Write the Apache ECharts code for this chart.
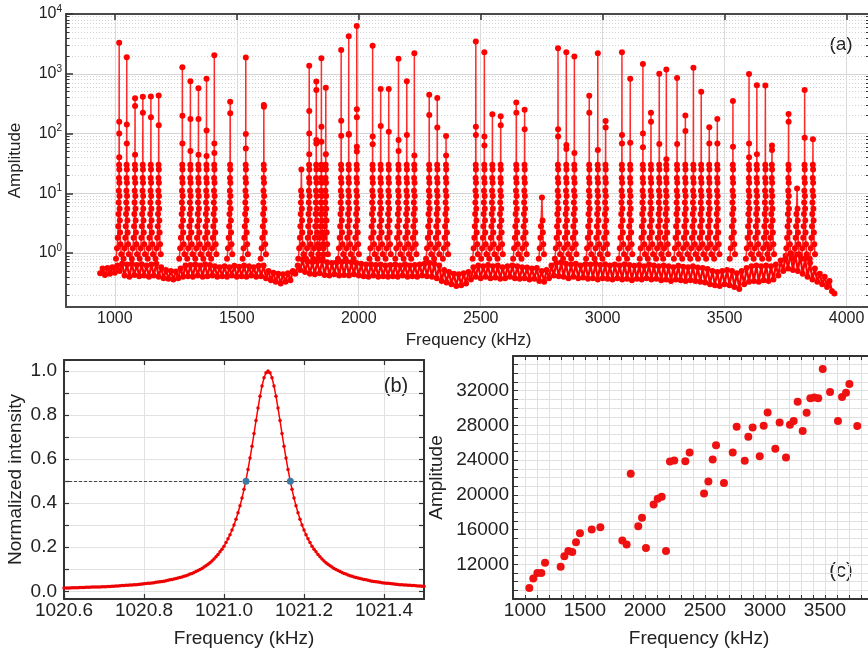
<!DOCTYPE html>
<html><head><meta charset="utf-8">
<script src="https://cdn.jsdelivr.net/npm/echarts@6/dist/echarts.min.js"></script>
<style>html,body{margin:0;padding:0;background:#fff}#c{width:868px;height:652px}</style>
</head><body><div id="c"></div>
<script>
// ---------- Panel (a): spectrum ----------
const peakFreq = [1018,1049,1083,1115,1148,1180,1277,1310,1343,1376,1408,1473,1537,1611,1765,1797,1826,1847,1865,1928,1959,1992,2057,2090,2123,2163,2197,2228,2289,2322,2358,2480,2515,2548,2582,2646,2680,2751,2817,2851,2884,2945,2980,3012,3079,3113,3165,3198,3232,3261,3305,3339,3372,3404,3437,3470,3534,3600,3632,3667,3694,3762,3797,3828,3862];
const peakAmp = [3300,1890,388,413,418,434,1280,750,570,826,2040,340,1880,300,25,1365,740,1820,585,2500,4250,6300,2950,555,555,1790,750,2200,445,393,91,3460,2290,211,194,330,250,8.5,2680,2290,1940,430,2200,162,2300,825,1450,223,1000,1180,850,200,1260,500,127,175,350,990,640,635,63,213,12,535,80];
const peakDots = [[157,100,40],[142,68],[288,44],[223],[187],[137],[198,68],[175,51],[175,44],[112,42],[68,47],[218],[98,56],[280],[],[238,100,45],[535,78,68],[130,73],[45],[164,92],[98,95],[254,187,60,50],[89,66],[133],[107],[78,51],[94],[43],[204],[126],[43],[130,94],[89,63],[],[138],[223],[118],[],[118,89],[64,55],[47],[223],[53],[126],[94,68],[70],[100,59],[157],[67],[37],[67],[110],[],[],[68],[68],[60],[68,40],[45],[],[53],[157],[],[85],[]];
// dots seen on every stem below the top (amplitude, kHz from the peak centre)
const riseLevel = [0.8,1.2,1.8,2.8,4.5,7,11,18,30];
const riseOffset = [-13,-9,-6,-4,-2.8,-2,-1.4,-0.9,-0.5];
const fallLevel = [25,15,9,5.5,3.5,2.2,1.4,0.95];
const fallOffset = [0.5,0.8,1.2,1.8,2.6,3.8,5.5,8.5];
// noise floor between the peaks
const bandFreq = [
940,950,960,970,980,990,1000,1010,1020,1030,
1040,1050,1060,1070,1080,1090,1100,1110,1120,1130,
1140,1150,1160,1170,1180,1190,1200,1210,1220,1230,
1240,1250,1260,1270,1280,1290,1300,1310,1320,1330,
1340,1350,1360,1370,1380,1390,1400,1410,1420,1430,
1440,1450,1460,1470,1480,1490,1500,1510,1520,1530,
1540,1550,1560,1570,1580,1590,1600,1610,1620,1630,
1640,1650,1660,1670,1680,1690,1700,1710,1720,1730,
1740,1750,1760,1770,1780,1790,1800,1810,1820,1830,
1840,1850,1860,1870,1880,1890,1900,1910,1920,1930,
1940,1950,1960,1970,1980,1990,2000,2010,2020,2030,
2040,2050,2060,2070,2080,2090,2100,2110,2120,2130,
2140,2150,2160,2170,2180,2190,2200,2210,2220,2230,
2240,2250,2260,2270,2280,2290,2300,2310,2320,2330,
2340,2350,2360,2370,2380,2390,2400,2410,2420,2430,
2440,2450,2460,2470,2480,2490,2500,2510,2520,2530,
2540,2550,2560,2570,2580,2590,2600,2610,2620,2630,
2640,2650,2660,2670,2680,2690,2700,2710,2720,2730,
2740,2750,2760,2770,2780,2790,2800,2810,2820,2830,
2840,2850,2860,2870,2880,2890,2900,2910,2920,2930,
2940,2950,2960,2970,2980,2990,3000,3010,3020,3030,
3040,3050,3060,3070,3080,3090,3100,3110,3120,3130,
3140,3150,3160,3170,3180,3190,3200,3210,3220,3230,
3240,3250,3260,3270,3280,3290,3300,3310,3320,3330,
3340,3350,3360,3370,3380,3390,3400,3410,3420,3430,
3440,3450,3460,3470,3480,3490,3500,3510,3520,3530,
3540,3550,3560,3570,3580,3590,3600,3610,3620,3630,
3640,3650,3660,3670,3680,3690,3700,3710,3720,3730,
3740,3750,3760,3770,3780,3790,3800,3810,3820,3830,
3840,3850,3860,3870,3880,3890,3900,3910,3920,3930,
3940,3950];
const bandAmp = [
0.46,0.55,0.43,0.56,0.45,0.58,0.47,0.62,0.50,0.66,
0.42,0.64,0.40,0.66,0.43,0.63,0.41,0.65,0.42,0.62,
0.40,0.64,0.42,0.66,0.40,0.58,0.38,0.52,0.37,0.50,
0.36,0.49,0.38,0.55,0.40,0.62,0.41,0.63,0.40,0.64,
0.42,0.62,0.40,0.65,0.41,0.63,0.42,0.60,0.40,0.58,
0.41,0.60,0.40,0.58,0.42,0.61,0.40,0.59,0.41,0.62,
0.40,0.60,0.42,0.58,0.40,0.61,0.41,0.62,0.38,0.50,
0.35,0.47,0.33,0.45,0.31,0.44,0.33,0.46,0.35,0.50,
0.45,0.62,0.52,0.78,0.48,0.72,0.45,0.70,0.44,0.72,
0.46,0.74,0.43,0.70,0.42,0.68,0.44,0.70,0.42,0.71,
0.43,0.72,0.42,0.70,0.44,0.68,0.42,0.66,0.41,0.64,
0.40,0.65,0.42,0.63,0.40,0.64,0.41,0.62,0.40,0.63,
0.41,0.64,0.40,0.62,0.42,0.65,0.40,0.62,0.41,0.63,
0.40,0.64,0.42,0.66,0.41,0.68,0.40,0.66,0.38,0.62,
0.34,0.52,0.32,0.48,0.30,0.45,0.28,0.44,0.29,0.46,
0.31,0.48,0.36,0.58,0.40,0.62,0.38,0.60,0.40,0.63,
0.38,0.60,0.39,0.62,0.37,0.58,0.38,0.60,0.40,0.62,
0.38,0.60,0.37,0.58,0.38,0.57,0.36,0.55,0.37,0.56,
0.34,0.50,0.33,0.52,0.38,0.62,0.42,0.68,0.41,0.70,
0.40,0.66,0.38,0.64,0.40,0.66,0.38,0.62,0.39,0.65,
0.37,0.64,0.38,0.66,0.36,0.63,0.38,0.65,0.37,0.62,
0.36,0.64,0.38,0.62,0.36,0.65,0.37,0.63,0.35,0.61,
0.37,0.63,0.36,0.60,0.38,0.64,0.36,0.62,0.37,0.60,
0.35,0.62,0.36,0.60,0.34,0.58,0.36,0.61,0.35,0.59,
0.34,0.58,0.35,0.60,0.34,0.57,0.33,0.56,0.32,0.54,
0.30,0.50,0.29,0.48,0.28,0.50,0.30,0.52,0.29,0.50,
0.27,0.46,0.25,0.50,0.30,0.56,0.33,0.60,0.34,0.62,
0.33,0.60,0.35,0.62,0.34,0.60,0.36,0.64,0.42,0.75,
0.50,0.90,0.55,1.00,0.52,0.95,0.50,0.90,0.45,0.80,
0.40,0.68,0.36,0.55,0.33,0.45,0.30,0.40,0.27,0.34,
0.23,0.21];
const aTickX = [1000,1500,2000,2500,3000,3500,4000];
const aTickY = [1,10,100,1000,10000];
const aMinorY = [0.2,0.3,0.4,0.5,0.6,0.7,0.8,0.9,2,3,4,5,6,7,8,9,20,30,40,50,60,70,80,90,200,300,400,500,600,700,800,900,2000,3000,4000,5000,6000,7000,8000,9000];

// ---------- Panel (b): single resonance ----------
const freqB = [
1020.6,1020.605,1020.61,1020.615,1020.62,1020.625,1020.63,1020.635,1020.64,1020.645,
1020.65,1020.655,1020.66,1020.665,1020.67,1020.675,1020.68,1020.685,1020.69,1020.695,
1020.7,1020.705,1020.71,1020.715,1020.72,1020.725,1020.73,1020.735,1020.74,1020.745,
1020.75,1020.755,1020.76,1020.765,1020.77,1020.775,1020.78,1020.785,1020.79,1020.795,
1020.8,1020.805,1020.81,1020.815,1020.82,1020.825,1020.83,1020.835,1020.84,1020.845,
1020.85,1020.855,1020.86,1020.865,1020.87,1020.875,1020.88,1020.885,1020.89,1020.895,
1020.9,1020.905,1020.91,1020.915,1020.92,1020.925,1020.93,1020.935,1020.94,1020.945,
1020.95,1020.955,1020.96,1020.965,1020.97,1020.975,1020.98,1020.985,1020.99,1020.995,
1021.0,1021.005,1021.01,1021.015,1021.02,1021.025,1021.03,1021.035,1021.04,1021.045,
1021.05,1021.055,1021.06,1021.065,1021.07,1021.075,1021.08,1021.085,1021.09,1021.095,
1021.1,1021.105,1021.11,1021.115,1021.12,1021.125,1021.13,1021.135,1021.14,1021.145,
1021.15,1021.155,1021.16,1021.165,1021.17,1021.175,1021.18,1021.185,1021.19,1021.195,
1021.2,1021.205,1021.21,1021.215,1021.22,1021.225,1021.23,1021.235,1021.24,1021.245,
1021.25,1021.255,1021.26,1021.265,1021.27,1021.275,1021.28,1021.285,1021.29,1021.295,
1021.3,1021.305,1021.31,1021.315,1021.32,1021.325,1021.33,1021.335,1021.34,1021.345,
1021.35,1021.355,1021.36,1021.365,1021.37,1021.375,1021.38,1021.385,1021.39,1021.395,
1021.4,1021.405,1021.41,1021.415,1021.42,1021.425,1021.43,1021.435,1021.44,1021.445,
1021.45,1021.455,1021.46,1021.465,1021.47,1021.475,1021.48,1021.485,1021.49,1021.495,
1021.5];
const intensityB = [
0.015,0.015,0.015,0.015,0.016,0.016,0.016,0.016,0.017,0.017,
0.017,0.018,0.018,0.018,0.019,0.019,0.019,0.020,0.020,0.021,
0.021,0.021,0.022,0.022,0.023,0.023,0.024,0.024,0.025,0.026,
0.026,0.027,0.027,0.028,0.029,0.030,0.030,0.031,0.032,0.033,
0.034,0.035,0.036,0.037,0.038,0.039,0.041,0.042,0.043,0.045,
0.046,0.048,0.050,0.052,0.054,0.056,0.058,0.060,0.063,0.065,
0.068,0.071,0.074,0.078,0.081,0.085,0.090,0.094,0.099,0.104,
0.110,0.116,0.123,0.130,0.138,0.147,0.157,0.167,0.179,0.191,
0.205,0.221,0.238,0.257,0.278,0.301,0.327,0.356,0.388,0.423,
0.463,0.506,0.553,0.605,0.659,0.716,0.775,0.832,0.885,0.932,
0.969,0.992,1.000,0.992,0.969,0.932,0.885,0.832,0.775,0.716,
0.659,0.605,0.553,0.506,0.463,0.423,0.388,0.356,0.327,0.301,
0.278,0.257,0.238,0.221,0.205,0.191,0.179,0.167,0.157,0.147,
0.138,0.130,0.123,0.116,0.110,0.104,0.099,0.094,0.090,0.085,
0.081,0.078,0.074,0.071,0.068,0.065,0.063,0.060,0.058,0.056,
0.054,0.052,0.050,0.048,0.046,0.045,0.043,0.042,0.041,0.039,
0.038,0.037,0.036,0.035,0.034,0.033,0.032,0.031,0.030,0.030,
0.029,0.028,0.027,0.027,0.026,0.026,0.025,0.024,0.024,0.023,
0.023];
const halfFreq = [1021.055, 1021.166];
const halfLevel = [0.5, 0.5];
const bTickX = [1020.6,1020.8,1021.0,1021.2,1021.4];
const bTickY = [0,0.2,0.4,0.6,0.8,1.0];
const bMinorY = [0,0.1,0.2,0.3,0.4,0.5,0.6,0.7,0.8,0.9,1.0];

// ---------- Panel (c): peak amplitude vs frequency ----------
const freqC = [1036,1069,1103,1136,1167,1297,1328,1361,1394,1425,1458,1556,1628,1811,1847,1881,1944,1975,2008,2072,2106,2139,2175,2208,2244,2336,2372,2492,2528,2564,2592,2658,2731,2764,2831,2861,2897,2956,2989,3022,3086,3122,3175,3208,3239,3272,3314,3347,3378,3411,3444,3481,3542,3608,3642,3675,3703,3769];
const ampC = [9270,10350,11000,11000,12190,11730,12920,13540,13420,14540,15580,16000,16270,14730,14270,22420,16390,17350,13890,18890,19540,19770,13540,23850,23960,23880,24880,20150,21540,24080,25730,21380,24880,27850,23920,26690,27770,24460,27960,29500,25310,28350,24310,28080,28500,30730,27350,29460,31120,31230,31120,34500,31850,28500,31270,31770,32770,27920];
const cTickX = [1000,1500,2000,2500,3000,3500];
const cMinorX = [900,1000,1100,1200,1300,1400,1500,1600,1700,1800,1900,2000,2100,2200,2300,2400,2500,2600,2700,2800,2900,3000,3100,3200,3300,3400,3500,3600,3700,3800,3900,4000];
const cTickY = [12000,16000,20000,24000,28000,32000];
const cMinorY = [8000,9000,10000,11000,12000,13000,14000,15000,16000,17000,18000,19000,20000,21000,22000,23000,24000,25000,26000,27000,28000,29000,30000,31000,32000,33000,34000,35000,36000];

// ---------- build series data ----------
const bandData = bandFreq.map((f, i) => [f, bandAmp[i]]);
const peakData = [];
peakFreq.forEach((f, p) => {
  const A = peakAmp[p];
  riseLevel.forEach((v, j) => { if (v < A * 0.5) peakData.push([f + riseOffset[j], v]); });
  peakData.push([f, A]);
  peakDots[p].forEach(v => peakData.push([f + 0.2, v]));
  fallLevel.forEach((v, j) => { if (v < A * 0.5) peakData.push([f + fallOffset[j], v]); });
  peakData.push([f + 9, '-']);
});
const bData = freqB.map((f, i) => [f, intensityB[i]]);
const halfData = halfFreq.map((f, i) => [f, halfLevel[i]]);
const cData = freqC.map((f, i) => [f, ampC[i]]);

const FONT = '"Liberation Sans", Arial, sans-serif';
const TXT = '#222';
const DARK = '#333';
const plain = v => String(Math.round(v));
const chart = echarts.init(document.getElementById('c'), null, {renderer: 'canvas'});

function frameAxis(extra) {
  return Object.assign({
    type: 'value',
    axisLine: {show: true, onZero: false, lineStyle: {color: DARK, width: 2}},
    axisTick: {show: false},
    axisLabel: {show: false},
    splitLine: {show: false}
  }, extra);
}

chart.setOption({
  animation: false,
  backgroundColor: '#fff',
  textStyle: {fontFamily: FONT, color: TXT},
  grid: [
    {left: 66, top: 14, width: 805, height: 293, containLabel: false, outerBoundsMode: 'none'},
    {left: 64, top: 360, width: 360, height: 239, containLabel: false, outerBoundsMode: 'none'},
    {left: 513, top: 356, width: 372, height: 243, containLabel: false, outerBoundsMode: 'none'}
  ],
  xAxis: [
    frameAxis({gridIndex: 0, position: 'bottom', min: 800, max: 4100,
      axisLine: {show: true, onZero: false, lineStyle: {color: '#4a4a4a', width: 2}},
      axisTick: {show: false, customValues: aTickX},
      axisLabel: {show: true, customValues: aTickX, formatter: plain, fontSize: 16, color: TXT, margin: 4, fontFamily: FONT},
      splitLine: {show: true, lineStyle: {color: '#dadada', width: 1}},
      name: 'Frequency (kHz)', nameLocation: 'middle', nameGap: 25,
      nameTextStyle: {fontSize: 17, color: TXT, fontFamily: FONT}}),
    frameAxis({gridIndex: 0, position: 'top', min: 800, max: 4100,
      axisLine: {show: true, onZero: false, lineStyle: {color: '#4a4a4a', width: 2}},
      axisTick: {show: true, inside: true, length: 6, customValues: aTickX, lineStyle: {color: DARK, width: 1.5}}}),
    frameAxis({gridIndex: 1, position: 'bottom', min: 1020.6, max: 1021.5,
      axisTick: {show: true, inside: true, length: 5, customValues: bTickX, lineStyle: {color: DARK, width: 1.2}},
      axisLabel: {show: true, customValues: bTickX, formatter: v => v.toFixed(1), fontSize: 19, color: TXT, margin: 2, fontFamily: FONT},
      splitLine: {show: true, lineStyle: {color: '#e2e2e2', width: 1}},
      name: 'Frequency (kHz)', nameLocation: 'middle', nameGap: 30,
      nameTextStyle: {fontSize: 19, color: TXT, fontFamily: FONT}}),
    frameAxis({gridIndex: 1, position: 'top', min: 1020.6, max: 1021.5,
      axisTick: {show: true, inside: true, length: 5, customValues: bTickX, lineStyle: {color: DARK, width: 1.2}}}),
    frameAxis({gridIndex: 2, position: 'bottom', min: 900, max: 4000,
      axisTick: {show: true, inside: true, length: 4, customValues: cMinorX, lineStyle: {color: DARK, width: 1}},
      axisLabel: {show: true, customValues: cTickX, formatter: plain, fontSize: 19, color: TXT, margin: 2, fontFamily: FONT},
      splitLine: {show: true, lineStyle: {color: '#e0e0e0', width: 1}},
      name: 'Frequency (kHz)', nameLocation: 'middle', nameGap: 30,
      nameTextStyle: {fontSize: 19, color: TXT, fontFamily: FONT}}),
    frameAxis({gridIndex: 2, position: 'top', min: 900, max: 4000,
      axisTick: {show: true, inside: true, length: 4, customValues: cMinorX, lineStyle: {color: DARK, width: 1}}})
  ],
  yAxis: [
    frameAxis({gridIndex: 0, type: 'log', logBase: 10, position: 'left', min: 0.125, max: 10000,
      axisLine: {show: true, onZero: false, lineStyle: {color: '#4a4a4a', width: 2}},
      axisTick: {show: true, inside: true, length: 7, customValues: aTickY, lineStyle: {color: DARK, width: 1.5}},
      axisLabel: {show: true, customValues: aTickY, margin: 4,
        formatter: v => '{b|10}{e|' + Math.round(Math.log10(v)) + '}',
        rich: {b: {fontSize: 16, lineHeight: 20, color: TXT, fontFamily: FONT},
               e: {fontSize: 10, lineHeight: 11, verticalAlign: 'top', color: TXT, fontFamily: FONT}}},
      splitLine: {show: true, lineStyle: {color: '#d4d4d4', width: 1}},
      name: 'Amplitude', nameLocation: 'middle', nameGap: 42,
      nameTextStyle: {fontSize: 17, color: TXT, fontFamily: FONT}}),
    frameAxis({gridIndex: 0, type: 'log', logBase: 10, position: 'left', min: 0.125, max: 10000,
      axisLine: {show: false},
      axisTick: {show: true, inside: true, length: 3.5, customValues: aMinorY, lineStyle: {color: DARK, width: 1}},
      splitLine: {show: true, lineStyle: {color: '#d2d2d2', width: 1, type: [1, 2]}}}),
    frameAxis({gridIndex: 0, type: 'log', logBase: 10, position: 'right', min: 0.125, max: 10000,
      axisLine: {show: true, onZero: false, lineStyle: {color: '#4a4a4a', width: 2}},
      axisTick: {show: true, inside: true, length: 5, customValues: aMinorY, lineStyle: {color: DARK, width: 1}}}),
    frameAxis({gridIndex: 1, position: 'left', min: -0.035, max: 1.05,
      axisTick: {show: true, inside: true, length: 5, customValues: bMinorY, lineStyle: {color: DARK, width: 1.2}},
      axisLabel: {show: true, customValues: bTickY, formatter: v => v.toFixed(1), fontSize: 19, color: TXT, margin: 7, fontFamily: FONT},
      splitLine: {show: true, lineStyle: {color: '#e2e2e2', width: 1}},
      name: 'Normalized intensity', nameLocation: 'middle', nameGap: 39,
      nameTextStyle: {fontSize: 19, color: TXT, fontFamily: FONT}}),
    frameAxis({gridIndex: 1, position: 'right', min: -0.035, max: 1.05,
      axisTick: {show: true, inside: true, length: 5, customValues: bMinorY, lineStyle: {color: DARK, width: 1.2}}}),
    frameAxis({gridIndex: 2, position: 'left', min: 8000, max: 36000,
      axisTick: {show: true, inside: true, length: 5, customValues: cMinorY, lineStyle: {color: DARK, width: 1}},
      axisLabel: {show: true, customValues: cTickY, formatter: plain, fontSize: 19, color: TXT, margin: 4, fontFamily: FONT},
      splitLine: {show: true, lineStyle: {color: '#e0e0e0', width: 1}},
      name: 'Amplitude', nameLocation: 'middle', nameGap: 67,
      nameTextStyle: {fontSize: 19, color: TXT, fontFamily: FONT}})
  ],
  series: [
    {type: 'line', xAxisIndex: 0, yAxisIndex: 0, data: bandData, symbol: 'circle', symbolSize: 6,
     showSymbol: true, showAllSymbol: true, sampling: 'none', silent: true, z: 3,
     itemStyle: {color: '#ff0000', opacity: 1}, lineStyle: {color: '#ff0000', width: 2.2}, emphasis: {disabled: true}},
    {type: 'line', xAxisIndex: 0, yAxisIndex: 0, data: peakData, symbol: 'circle', symbolSize: 6,
     showSymbol: true, showAllSymbol: true, connectNulls: false, sampling: 'none', silent: true, z: 4,
     itemStyle: {color: '#ff0000', opacity: 1}, lineStyle: {color: '#ff2a2a', width: 1.5}, emphasis: {disabled: true}},
    {type: 'line', xAxisIndex: 2, yAxisIndex: 3, data: bData, symbol: 'circle', symbolSize: 3.5,
     showSymbol: true, silent: true, z: 3,
     itemStyle: {color: '#ee0000', opacity: 1}, lineStyle: {color: '#ff0000', width: 1.5}, emphasis: {disabled: true},
     markLine: {silent: true, symbol: ['none', 'none'], label: {show: false}, z: 2,
       lineStyle: {color: '#444', width: 1, type: [3, 2]}, data: [{yAxis: 0.5}]}},
    {type: 'scatter', xAxisIndex: 2, yAxisIndex: 3, data: halfData, symbol: 'circle', symbolSize: 7, z: 4,
     silent: true, itemStyle: {color: '#3d7ba3', opacity: 1}},
    {type: 'scatter', xAxisIndex: 4, yAxisIndex: 5, data: cData, symbol: 'circle', symbolSize: 8, z: 3,
     silent: true, itemStyle: {color: '#ee1111', opacity: 1}}
  ],
  graphic: [
    {type: 'text', x: 841, y: 45, style: {text: '(a)', fontSize: 19, fontFamily: FONT, fill: TXT, align: 'center', verticalAlign: 'middle'}},
    {type: 'text', x: 396, y: 386, style: {text: '(b)', fontSize: 20, fontFamily: FONT, fill: TXT, align: 'center', verticalAlign: 'middle'}},
    {type: 'text', x: 841, y: 571, style: {text: '(c)', fontSize: 20, fontFamily: FONT, fill: TXT, align: 'center', verticalAlign: 'middle'}}
  ]
});
</script></body></html>
